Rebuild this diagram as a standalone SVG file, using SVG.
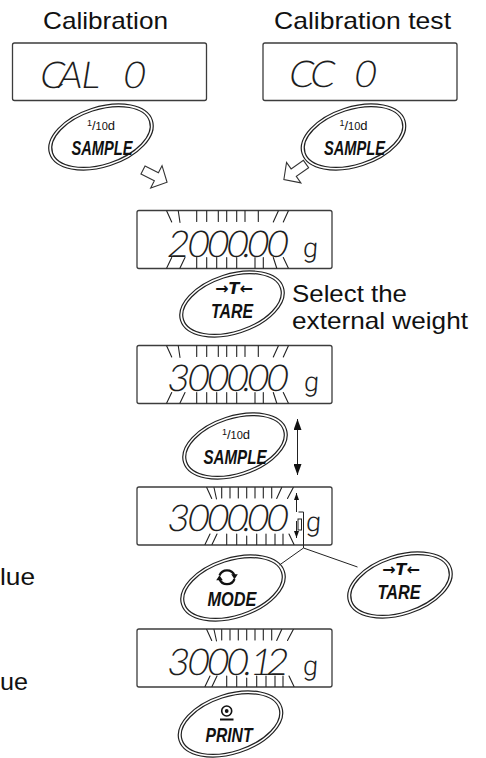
<svg xmlns="http://www.w3.org/2000/svg" width="486" height="758" viewBox="0 0 486 758">
<style>
.cap{font-family:"Liberation Sans",Arial,sans-serif;font-size:24px;fill:#111}
.lcd{fill:#fff;stroke:#3c3c3c;stroke-width:1.3}
.seg{font-family:Lato,"Roboto",sans-serif;font-weight:300;font-size:37px;fill:#1e1e1e;text-anchor:middle}
.unit{font-family:Roboto,sans-serif;font-weight:300;font-size:27px}
.tk{stroke:#222;stroke-width:1.1;fill:none;stroke-linecap:round}
.lbl{font-family:"Liberation Sans Narrow","Liberation Sans",Arial,sans-serif;font-weight:bold;font-style:italic;font-size:21px;fill:#111;text-anchor:middle}
.arw{font-family:"DejaVu Sans",sans-serif;font-weight:bold;font-style:italic;font-size:16px;fill:#111;text-anchor:middle}
.sm{font-family:"Liberation Sans",Arial,sans-serif;fill:#111;text-anchor:middle}
.ln{stroke:#222;stroke-width:1;fill:none}
.blk{fill:#fff;stroke:#333;stroke-width:1.1}
.ico{stroke:#111;stroke-width:2.2;fill:none}
</style>
<defs>
<g id="btn">
<ellipse rx="54" ry="30" transform="rotate(-18)" fill="#fff" stroke="#222" stroke-width="1.2"/>
<ellipse rx="51" ry="27.3" transform="rotate(-18)" fill="none" stroke="#222" stroke-width="1.2"/>
</g>
<path id="tkW" class="tk" d="M166.7,0.5 L171.7,11.5 M178.3,0.5 L180,12 M196.7,0.5 V11 M206.7,0.5 V11 M218.3,0.5 V11 M226.7,0.5 V11 M236.7,0.5 V11 M245,0.5 V11 M258.3,0.5 V11 M278.3,0.5 L273.3,11.5 M288.3,0.5 L283.3,11.5 M166.7,57.5 L171.7,47 M180,57.5 L185,47 M196.7,47 V57.5 M206.7,47 V57.5 M216.7,47 V57.5 M226.7,47 V57.5 M236.7,47 V57.5 M255,47 V57.5 M263.3,47 V57.5 M273.3,47 L276.7,57.5 M283.3,47 L288.3,57.5"/>
<path id="tkN" class="tk" d="M206.7,0.5 L211.7,11.5 M214,0.5 L216.5,12 M221.7,0.5 V11 M230,0.5 V11 M238.3,0.5 V11 M246.7,0.5 V11 M255,0.5 V11 M263.3,0.5 V11 M271.7,0.5 V11 M281.7,0.5 L276.7,11.5 M293.3,0.5 L287.5,11.5 M205,57.5 L210,47 M212,57.5 L217,47 M226.7,47 V57.5 M236.7,47 V57.5 M246.7,49 V57.5 M256.7,47 V57.5 M266,47 V57.5 M275,47 V57.5 M283,47 V57.5 M289,47 L294,57.5"/>
<marker id="ah" viewBox="0 0 11 8" refX="11" refY="4" markerWidth="11" markerHeight="8" markerUnits="userSpaceOnUse" orient="auto-start-reverse"><path d="M0,0 L11,4 L0,8 z" fill="#111"/></marker>
<marker id="ahs" viewBox="0 0 7 5" refX="7" refY="2.5" markerWidth="7" markerHeight="5" markerUnits="userSpaceOnUse" orient="auto-start-reverse"><path d="M0,0 L7,2.5 L0,5 z" fill="#111"/></marker>
</defs>
<rect width="486" height="758" fill="#fff"/>

<g id="titles">
<text class="cap" x="43" y="29" textLength="125" lengthAdjust="spacingAndGlyphs">Calibration</text>
<text class="cap" x="274" y="29" textLength="177" lengthAdjust="spacingAndGlyphs">Calibration test</text>
</g>

<g id="lcd-cal">
<rect class="lcd" x="12.5" y="43" width="194" height="57.5" rx="2"/>
<text class="seg" transform="translate(0,88) skewX(-9)" x="51 69 89 110 133" y="0">CAL 0</text>
</g>
<g id="lcd-cc">
<rect class="lcd" x="263" y="43" width="194" height="57.5" rx="2"/>
<text class="seg" transform="translate(0,87) skewX(-9)" x="300 321 342 364" y="0">CC 0</text>
</g>

<g id="btn-sample-cal">
<use href="#btn" x="101" y="137"/>
<text class="sm" x="101" y="130"><tspan font-size="9" dy="-4">1</tspan><tspan font-size="13" dy="4">/</tspan><tspan font-size="11">10</tspan><tspan font-size="13">d</tspan></text>
<text class="lbl" x="102" y="155" textLength="61" lengthAdjust="spacingAndGlyphs">SAMPLE</text>
</g>
<g id="btn-sample-cc">
<use href="#btn" x="353.5" y="137"/>
<text class="sm" x="353.5" y="130"><tspan font-size="9" dy="-4">1</tspan><tspan font-size="13" dy="4">/</tspan><tspan font-size="11">10</tspan><tspan font-size="13">d</tspan></text>
<text class="lbl" x="354.5" y="155" textLength="61" lengthAdjust="spacingAndGlyphs">SAMPLE</text>
</g>

<g id="lcd-2000">
<rect class="lcd" x="137" y="210.5" width="195" height="58" rx="2"/>
<use href="#tkW" y="210.5"/>
<text class="seg" transform="translate(0,256.5) skewX(-9)" x="177 197 216.5 236 245.5 256.5 276" y="0">2000.00</text>
<text class="seg unit" transform="translate(0,256.5) skewX(-4)" x="310" y="0">g</text>
</g>

<g id="btn-tare-1">
<use href="#btn" x="232" y="304"/>
<text class="arw" x="234" y="294">→T←</text>
<text class="lbl" x="232" y="318" textLength="42" lengthAdjust="spacingAndGlyphs">TARE</text>
</g>
<g id="note-select">
<text class="cap" x="292" y="302" textLength="115" lengthAdjust="spacingAndGlyphs">Select the</text>
<text class="cap" x="292" y="329" textLength="176" lengthAdjust="spacingAndGlyphs">external weight</text>
</g>

<g id="lcd-3000a">
<rect class="lcd" x="137" y="345.5" width="195" height="58" rx="2"/>
<use href="#tkW" y="345.5"/>
<text class="seg" transform="translate(0,390.5) skewX(-9)" x="177 197 216.5 236 245.5 256.5 276" y="0">3000.00</text>
<text class="seg unit" transform="translate(0,390.5) skewX(-4)" x="311" y="0">g</text>
</g>

<g id="btn-sample-mid">
<use href="#btn" x="235" y="446"/>
<text class="sm" x="236" y="439"><tspan font-size="9" dy="-4">1</tspan><tspan font-size="13" dy="4">/</tspan><tspan font-size="11">10</tspan><tspan font-size="13">d</tspan></text>
<text class="lbl" x="235" y="464" textLength="63" lengthAdjust="spacingAndGlyphs">SAMPLE</text>
</g>

<g id="lcd-3000b">
<rect class="lcd" x="137" y="487" width="195" height="58" rx="2"/>
<use href="#tkN" y="487"/>
<text class="seg" transform="translate(0,530.5) skewX(-9)" x="177 197 216.5 236 245.5 256.5 276" y="0">3000.00</text>
<text class="seg unit" transform="translate(0,530.5) skewX(-4)" x="313" y="0">g</text>
<rect x="298" y="519" width="3.5" height="11" fill="none" stroke="#222" stroke-width="1"/>
</g>

<g id="btn-mode">
<use href="#btn" x="233" y="588"/>
<path class="ico" d="M219.5,575.5 A8,8 0 0 1 234.5,575.5 M234.5,579 A8,8 0 0 1 219.5,579"/>
<polygon points="231.2,574.3 237.8,574.3 234.5,579.3" fill="#111"/>
<polygon points="216.2,580.2 222.8,580.2 219.5,575.2" fill="#111"/>
<text class="lbl" x="232" y="606" textLength="49" lengthAdjust="spacingAndGlyphs">MODE</text>
</g>
<g id="btn-tare-2">
<use href="#btn" x="400" y="585"/>
<text class="arw" x="401" y="575">→T←</text>
<text class="lbl" x="399" y="599" textLength="43" lengthAdjust="spacingAndGlyphs">TARE</text>
</g>

<g id="lue-texts">
<text class="cap" x="0" y="585" textLength="35" lengthAdjust="spacingAndGlyphs">lue</text>
<text class="cap" x="0" y="690" textLength="28" lengthAdjust="spacingAndGlyphs">ue</text>
</g>

<g id="lcd-3000-12">
<rect class="lcd" x="137" y="629" width="195" height="58" rx="2"/>
<use href="#tkN" y="629"/>
<text class="seg" transform="translate(0,674.5) skewX(-9)" x="177 197 216.5 236 246.5 260 276" y="0">3000.12</text>
<text class="seg unit" transform="translate(0,674.5) skewX(-4)" x="310" y="0">g</text>
</g>

<g id="btn-print">
<use href="#btn" x="230.5" y="724"/>
<circle cx="226.7" cy="711" r="5" fill="none" stroke="#111" stroke-width="1.6"/>
<circle cx="226.7" cy="711" r="1.9" fill="#111"/>
<line x1="220" y1="719.5" x2="233.5" y2="719.5" stroke="#111" stroke-width="2"/>
<text class="lbl" x="229" y="742" textLength="47" lengthAdjust="spacingAndGlyphs">PRINT</text>
</g>

<g id="connectors">
<polygon class="blk" points="0,-4.5 15,-4.5 15,-12.5 27,0 15,12.5 15,4.5 0,4.5" transform="translate(143,170) rotate(27)"/>
<polygon class="blk" points="0,-4.5 15,-4.5 15,-12.5 27,0 15,12.5 15,4.5 0,4.5" transform="translate(306,164) rotate(145)"/>
<line class="ln" x1="297.5" y1="419" x2="297.5" y2="475" stroke-width="1.5" marker-start="url(#ah)" marker-end="url(#ah)"/>
<line class="ln" x1="296.5" y1="493" x2="296.5" y2="512" marker-start="url(#ahs)"/>
<line class="ln" x1="296.5" y1="521" x2="296.5" y2="538" marker-end="url(#ahs)"/>
<polyline class="ln" points="298.5,512 303.5,512 303.5,548"/>
<line class="ln" x1="303.5" y1="548" x2="279.5" y2="565"/>
<line class="ln" x1="303.5" y1="548" x2="357.5" y2="567"/>
</g>
</svg>
